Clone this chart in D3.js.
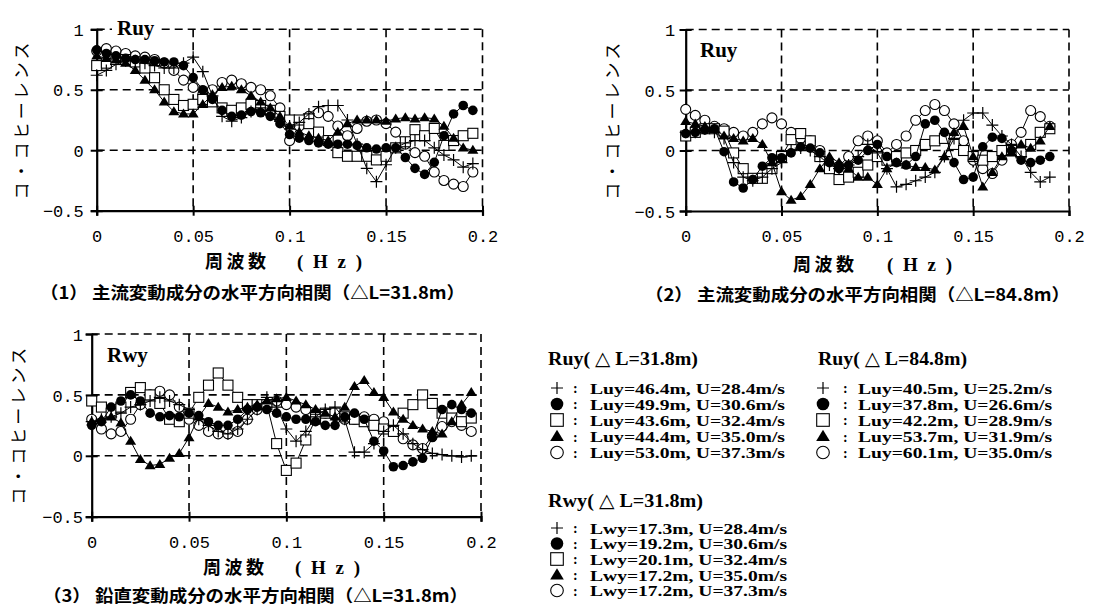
<!DOCTYPE html>
<html><head><meta charset="utf-8">
<script src="https://cdn.jsdelivr.net/npm/d3@7"></script>
<style>body{margin:0;background:#fff}</style>
</head><body><svg id="c" width="1115" height="614"></svg>
<script>
// ---------- data ----------
const freqA = [0,0.005,0.01,0.015,0.02,0.025,0.03,0.035,0.04,0.045,0.05,0.055,0.06,0.065,0.07,0.075,0.08,0.085,0.09,0.095,0.1,0.105,0.11,0.115,0.12,0.125,0.13,0.135,0.14,0.145,0.15,0.155,0.16,0.165,0.17,0.175,0.18,0.185,0.19,0.195];
const freqB = [0,0.005,0.01,0.015,0.02,0.025,0.03,0.035,0.04,0.045,0.05,0.055,0.06,0.065,0.07,0.075,0.08,0.085,0.09,0.095,0.1,0.105,0.11,0.115,0.12,0.125,0.13,0.135,0.14,0.145,0.15,0.155,0.16,0.165,0.17,0.175,0.18,0.185,0.19];

const xTicks = [0,0.05,0.1,0.15,0.2];
const xTickLabels = ["0","0.05","0.1","0.15","0.2"];
const yTicks = [-0.5,0,0.5,1];
const yTickLabels = ["\u22120.5","0","0.5","1"];

// chart (1) Ruy dL=31.8m
const r1Plus = [0.62,0.66,0.71,0.74,0.74,0.72,0.70,0.68,0.68,0.72,0.77,0.65,0.45,0.28,0.24,0.27,0.32,0.35,0.30,0.24,0.20,0.23,0.30,0.36,0.37,0.37,0.25,0.05,-0.15,-0.26,-0.12,0.02,0.06,0.08,0.08,0.02,-0.04,-0.08,-0.14,-0.11];
const r1FCirc = [0.83,0.80,0.78,0.76,0.75,0.75,0.74,0.73,0.73,0.70,0.60,0.50,0.42,0.33,0.28,0.29,0.32,0.31,0.28,0.22,0.13,0.10,0.08,0.06,0.05,0.05,0.05,0.04,0.02,0.01,0.02,0.02,-0.06,-0.15,-0.20,-0.10,0.12,0.30,0.37,0.33];
const r1OSq = [0.70,0.72,0.75,0.75,0.73,0.68,0.60,0.50,0.42,0.37,0.38,0.42,0.40,0.35,0.33,0.35,0.38,0.37,0.33,0.28,0.25,0.25,0.22,0.15,0.08,-0.02,-0.05,-0.05,-0.05,-0.08,-0.05,0.02,0.07,0.17,0.12,0.18,0.04,0.08,0.12,0.14];
const r1FTri = [0.78,0.76,0.75,0.72,0.66,0.58,0.50,0.40,0.32,0.30,0.30,0.38,0.46,0.52,0.53,0.50,0.45,0.40,0.35,0.28,0.20,0.15,0.12,0.10,0.08,0.15,0.22,0.25,0.25,0.25,0.24,0.26,0.27,0.26,0.27,0.26,0.20,0.10,0.02,0.00];
const r1OCirc = [0.82,0.84,0.82,0.80,0.78,0.77,0.75,0.72,0.66,0.58,0.52,0.46,0.50,0.56,0.58,0.55,0.52,0.50,0.45,0.35,0.08,0.20,0.28,0.31,0.28,0.20,0.12,0.18,0.24,0.25,0.22,0.15,0.05,-0.02,-0.05,-0.18,-0.25,-0.28,-0.30,-0.18];

// chart (2) Ruy dL=84.8m
const r2Plus = [0.15,0.15,0.18,0.15,0.10,-0.10,-0.22,-0.25,-0.22,-0.15,-0.10,0.00,0.02,0.00,-0.05,-0.12,-0.15,-0.12,-0.05,0.05,-0.02,-0.15,-0.30,-0.28,-0.25,-0.22,-0.18,-0.05,0.10,0.25,0.31,0.31,0.21,0.12,0.05,-0.05,-0.18,-0.26,-0.22];
const r2FCirc = [0.14,0.15,0.17,0.18,-0.01,-0.26,-0.31,-0.24,-0.13,-0.06,-0.06,-0.02,0.03,0.02,-0.02,-0.10,-0.15,-0.12,-0.08,0.00,0.05,-0.05,-0.10,-0.12,-0.05,0.22,0.25,0.15,-0.10,-0.24,-0.22,0.03,0.11,0.10,0.00,-0.08,-0.10,-0.08,-0.05];
const r2OSq = [0.12,0.15,0.18,0.18,0.16,-0.02,-0.15,-0.23,-0.23,-0.15,-0.05,0.09,0.14,0.08,-0.05,-0.15,-0.24,-0.22,-0.18,-0.12,-0.05,-0.08,-0.05,-0.02,0.00,0.05,0.08,0.10,0.05,0.00,-0.05,-0.08,-0.05,0.00,0.00,-0.02,0.05,0.15,0.18];
const r2FTri = [0.24,0.22,0.20,0.18,0.12,0.10,0.08,0.10,0.05,-0.10,-0.34,-0.41,-0.38,-0.28,-0.15,-0.05,-0.10,-0.15,-0.22,-0.22,-0.28,-0.15,-0.10,-0.12,-0.14,-0.14,-0.16,-0.05,0.15,0.20,-0.05,-0.30,-0.18,-0.05,-0.02,0.05,0.02,0.08,0.20];
const r2OCirc = [0.34,0.29,0.25,0.20,0.18,0.15,0.12,0.15,0.22,0.27,0.22,0.15,0.10,0.08,0.00,-0.12,-0.13,-0.05,0.08,0.12,0.08,-0.02,0.05,0.12,0.25,0.33,0.38,0.33,0.22,0.08,-0.08,-0.15,-0.19,-0.08,0.05,0.15,0.33,0.28,0.20];

// chart (3) Rwy dL=31.8m
const r3Plus = [0.28,0.30,0.32,0.35,0.40,0.42,0.45,0.48,0.45,0.42,0.38,0.30,0.25,0.20,0.18,0.22,0.30,0.38,0.48,0.40,0.22,0.12,0.20,0.32,0.38,0.40,0.30,0.03,0.03,0.10,0.20,0.25,0.18,0.10,0.05,0.02,0.01,0.00,-0.01,0.00];
const r3FCirc = [0.25,0.28,0.40,0.45,0.50,0.45,0.35,0.32,0.33,0.32,0.35,0.33,0.28,0.25,0.25,0.30,0.38,0.40,0.38,0.35,0.32,0.30,0.30,0.28,0.25,0.25,0.32,0.35,0.30,0.12,0.04,-0.09,-0.08,-0.05,-0.02,0.15,0.38,0.42,0.38,0.35];
const r3OSq = [0.45,0.40,0.35,0.40,0.52,0.56,0.50,0.43,0.30,0.28,0.35,0.48,0.58,0.68,0.58,0.48,0.42,0.42,0.42,0.10,-0.12,-0.06,0.13,0.30,0.35,0.35,0.32,0.30,0.28,0.25,0.22,0.20,0.35,0.42,0.50,0.43,0.35,0.31,0.28,0.31];
const r3FTri = [0.28,0.30,0.32,0.27,0.12,-0.03,-0.08,-0.07,-0.02,0.02,0.15,0.32,0.43,0.40,0.36,0.38,0.40,0.42,0.45,0.47,0.48,0.45,0.42,0.38,0.35,0.32,0.40,0.57,0.62,0.52,0.48,0.36,0.30,0.25,0.22,0.20,0.18,0.28,0.42,0.52];
const r3OCirc = [0.30,0.22,0.18,0.20,0.30,0.42,0.50,0.53,0.50,0.40,0.30,0.25,0.20,0.18,0.18,0.20,0.30,0.38,0.42,0.45,0.42,0.40,0.38,0.35,0.35,0.33,0.30,0.30,0.32,0.30,0.28,0.20,0.14,0.09,0.06,0.16,0.24,0.28,0.25,0.20];

const markerTypes = ["plus","fcirc","osq","ftri","ocirc"];
const legend1Title = "Ruy( \u25B3 L=31.8m)";
const legend1Labels = ["Luy=46.4m, U=28.4m/s","Luy=49.9m, U=30.6m/s","Luy=43.6m, U=32.4m/s","Luy=44.4m, U=35.0m/s","Luy=53.0m, U=37.3m/s"];
const legend2Title = "Ruy( \u25B3 L=84.8m)";
const legend2Labels = ["Luy=40.5m, U=25.2m/s","Luy=37.8m, U=26.6m/s","Luy=42.2m, U=28.9m/s","Luy=53.7m, U=31.9m/s","Luy=60.1m, U=35.0m/s"];
const legend3Title = "Rwy( \u25B3 L=31.8m)";
const legend3Labels = ["Lwy=17.3m, U=28.4m/s","Lwy=19.2m, U=30.6m/s","Lwy=20.1m, U=32.4m/s","Lwy=17.2m, U=35.0m/s","Lwy=17.2m, U=37.3m/s"];

const yAxisTitle = "コ・コヒーレンス";
const xAxisTitleJ = "周波数";
const xAxisTitleU = "( H z )";
const captions = ["（1） 主流変動成分の水平方向相関（△L=31.8m）","（2） 主流変動成分の水平方向相関（△L=84.8m）","（3） 鉛直変動成分の水平方向相関（△L=31.8m）"];
const panelLabels = ["Ruy","Ruy","Rwy"];

// ---------- drawing ----------
const svg = d3.select("#c");
svg.append("rect").attr("width",1115).attr("height",614).attr("fill","#fff");
const CJK = "'Noto Sans CJK JP','Noto Sans',sans-serif";
const SERIF = "'Liberation Serif','DejaVu Serif',serif";
const MONO = "'Liberation Mono','DejaVu Sans Mono',monospace";

function drawMarker(g, type, s) {
  if (type === "plus") {
    g.append("path").attr("d",`M${-s*1.15},0H${s*1.15}M0,${-s*1.15}V${s*1.15}`).attr("stroke","#000").attr("stroke-width",1.2).attr("fill","none");
  } else if (type === "fcirc") {
    g.append("circle").attr("r",s).attr("fill","#000");
  } else if (type === "ocirc") {
    g.append("circle").attr("r",s).attr("fill","#fff").attr("stroke","#000").attr("stroke-width",1.1);
  } else if (type === "osq") {
    g.append("rect").attr("x",-s).attr("y",-s).attr("width",2*s).attr("height",2*s).attr("fill","#fff").attr("stroke","#000").attr("stroke-width",1.1);
  } else if (type === "ftri") {
    const h = s*2*0.9;
    g.append("path").attr("d",`M0,${-h*0.6}L${s*1.1},${h*0.4}L${-s*1.1},${h*0.4}Z`).attr("fill","#000");
  }
}

const charts = [
  {x0:96.7,x1:482.5,yt:29.3,yb:210.7,ylx:13,series:[r1Plus,r1FCirc,r1OSq,r1FTri,r1OCirc],freq:freqA,
   labelX:117,labelY:35,labelBg:true,yTitleX:22,capX:40,capY:299,titleY:268,tJx:205,tUx:297},
  {x0:685.7,x1:1069,yt:29.5,yb:211,ylx:10.5,series:[r2Plus,r2FCirc,r2OSq,r2FTri,r2OCirc],freq:freqB,
   labelX:700,labelY:57,labelBg:false,yTitleX:613,capX:645,capY:301,titleY:271,tJx:793,tUx:887},
  {x0:91.7,x1:481,yt:334,yb:516.7,ylx:8.7,series:[r3Plus,r3FCirc,r3OSq,r3FTri,r3OCirc],freq:freqA,
   labelX:107,labelY:362,labelBg:false,yTitleX:19,capX:43,capY:602,titleY:574,tJx:203,tUx:295}
];

charts.forEach((c, ci) => {
  const g = svg.append("g");
  const x = d3.scaleLinear().domain([0,0.2]).range([c.x0,c.x1]);
  const y = d3.scaleLinear().domain([-0.5,1]).range([c.yb,c.yt]);

  // dashed grid
  const grid = g.append("g").attr("stroke","#000").attr("stroke-width",1.6).attr("stroke-dasharray","8,5").attr("fill","none");
  [0,0.5,1].forEach(v => grid.append("line").attr("x1",x(0)).attr("x2",x(0.2)).attr("y1",y(v)).attr("y2",y(v)));
  [0.05,0.1,0.15,0.2].forEach(v => grid.append("line").attr("x1",x(v)).attr("x2",x(v)).attr("y1",y(1)).attr("y2",y(-0.5)));

  // axes
  const ax = g.append("g").attr("transform",`translate(0,${c.yb})`)
    .call(d3.axisBottom(x).tickValues(xTicks).tickFormat((d,i)=>xTickLabels[i]).tickSizeOuter(0).tickSize(5));
  ax.select(".domain").attr("stroke-width",2.2);
  ax.selectAll(".tick line").attr("y1",-5).attr("y2",5).attr("stroke-width",2);
  ax.selectAll(".tick text").attr("y",31).attr("dy",0).attr("font-family",MONO).attr("font-size",17).attr("fill","#000");

  const ay = g.append("g").attr("transform",`translate(${c.x0},0)`)
    .call(d3.axisLeft(y).tickValues(yTicks).tickFormat((d,i)=>yTickLabels[i]).tickSizeOuter(0).tickSize(6));
  ay.select(".domain").attr("stroke-width",2.2);
  ay.selectAll(".tick line").attr("x1",6).attr("x2",-6).attr("stroke-width",2);
  ay.selectAll(".tick text").attr("x",-c.ylx).attr("dy","0.36em").attr("font-family",MONO).attr("font-size",17).attr("fill","#000");

  // series
  const order = [4,2,3,1,0];
  const line = d3.line().x(d=>x(d[0])).y(d=>y(d[1]));
  const plot = g.append("g");
  const sizes = {plus:5.2,fcirc:4.8,osq:5,ftri:5,ocirc:5};
  order.forEach(si => {
    const pts = c.series[si].map((v,i)=>[c.freq[i],v]);
    plot.append("path").datum(pts).attr("d",line).attr("fill","none").attr("stroke","#000").attr("stroke-width",1);
    plot.append("g").selectAll("g").data(pts).join("g")
      .attr("transform",d=>`translate(${x(d[0])},${y(d[1])})`)
      .each(function(){ drawMarker(d3.select(this), markerTypes[si], sizes[markerTypes[si]]); });
  });

  // panel label
  const lt = g.append("text").attr("x",c.labelX).attr("y",c.labelY).attr("font-family",SERIF).attr("font-weight","bold").attr("font-size",21).text(panelLabels[ci]);
  if (c.labelBg) {
    const bb = lt.node().getBBox();
    g.insert("rect", () => lt.node()).attr("x",bb.x-5).attr("y",bb.y-2).attr("width",bb.width+10).attr("height",bb.height+2).attr("fill","#fff");
  }

  // y axis title
  const ycy = (c.yt + c.yb)/2 + 1;
  g.append("text").attr("transform",`translate(${c.yTitleX+6},${ycy}) rotate(-90)`).attr("text-anchor","middle")
    .attr("font-family",CJK).attr("font-size",17).attr("textLength",157).attr("lengthAdjust","spacing").text(yAxisTitle);

  // x axis title
  g.append("text").attr("x",c.tJx).attr("y",c.titleY).attr("font-family",CJK).attr("font-weight","bold").attr("font-size",18)
    .attr("textLength",61).attr("lengthAdjust","spacing").text(xAxisTitleJ);
  g.append("text").attr("x",c.tUx).attr("y",c.titleY).attr("font-family",SERIF).attr("font-weight","bold").attr("font-size",19)
    .attr("textLength",65).attr("lengthAdjust","spacing").text(xAxisTitleU);

  // caption
  g.append("text").attr("x",c.capX).attr("y",c.capY).attr("font-family",CJK).attr("font-weight","bold").attr("font-size",17)
    .attr("textLength",425).attr("lengthAdjust","spacingAndGlyphs").text(captions[ci]);
});

// ---------- legends ----------
const legends = [
  {title:legend1Title,labels:legend1Labels,tx:548,ty:365,tw:150,mx:557,cx:573,lx:590,lw:195,ry:[388,404,420,436.5,452.5]},
  {title:legend2Title,labels:legend2Labels,tx:818,ty:365,tw:149,mx:823,cx:843,lx:858,lw:194,ry:[388,404,420,436.5,452.5]},
  {title:legend3Title,labels:legend3Labels,tx:548,ty:507,tw:155,mx:557,cx:573,lx:590,lw:197,ry:[528,543.5,559,575,590.5]}
];
legends.forEach(L => {
  const g = svg.append("g");
  g.append("text").attr("x",L.tx).attr("y",L.ty).attr("font-family",SERIF).attr("font-weight","bold").attr("font-size",19)
    .attr("textLength",L.tw).attr("lengthAdjust","spacingAndGlyphs").text(L.title);
  L.labels.forEach((lab,i) => {
    const yy = L.ry[i];
    const mg = g.append("g").attr("transform",`translate(${L.mx},${yy})`);
    const t = markerTypes[i];
    if (t === "plus") mg.append("path").attr("d","M-6,0H6M0,-6V6").attr("stroke","#000").attr("stroke-width",1.2);
    else drawMarker(mg, t, t==="ftri"?6.2:6.3);
    g.append("text").attr("x",L.cx).attr("y",yy+5).attr("font-family",SERIF).attr("font-weight","bold").attr("font-size",14).text(":");
    g.append("text").attr("x",L.lx).attr("y",yy+5.5).attr("font-family",SERIF).attr("font-weight","bold").attr("font-size",14.5)
      .attr("textLength",L.lw).attr("lengthAdjust","spacingAndGlyphs").text(lab);
  });
});
</script>
</body></html>
